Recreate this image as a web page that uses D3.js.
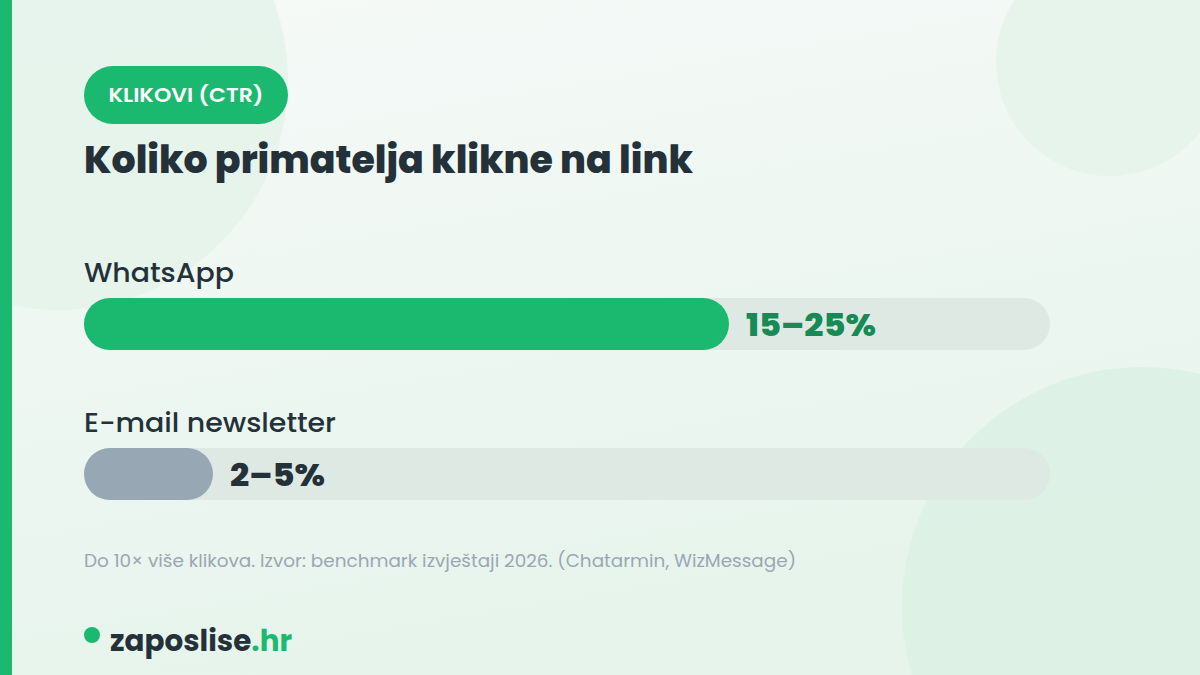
<!DOCTYPE html>
<html><head><meta charset="utf-8">
<script src="https://cdn.jsdelivr.net/npm/d3@7"></script>
<style>html,body{margin:0;padding:0;background:#f3f8f5;}svg{display:block;}</style>
</head><body>
<script>
const categories = ["WhatsApp", "E-mail newsletter"];
const lowValues = [15, 2];
const highValues = [25, 5];
const valueLabels = ["15–25%", "2–5%"];
const scaleMax = 37.5;
const badgeText = "KLIKOVI (CTR)";
const titleText = "Koliko primatelja klikne na link";
const noteText = "Do 10× više klikova. Izvor: benchmark izvještaji 2026. (Chatarmin, WizMessage)";

const W = 1200, H = 675;
const FONT = "Poppins, Inter, 'Noto Sans', sans-serif";
const svg = d3.select("body").append("svg").attr("width", W).attr("height", H);
const defs = svg.append("defs");
const bg = defs.append("linearGradient").attr("id","bg").attr("x1",0).attr("y1",0).attr("x2",0.3).attr("y2",1);
bg.append("stop").attr("offset","0%").attr("stop-color","#f6faf8");
bg.append("stop").attr("offset","100%").attr("stop-color","#e6f4ec");
svg.append("rect").attr("width",W).attr("height",H).attr("fill","url(#bg)");

// decorative circles
svg.append("circle").attr("cx",58).attr("cy",80).attr("r",230).attr("fill","#e4f3ea").attr("opacity",0.8);
svg.append("circle").attr("cx",1110).attr("cy",62).attr("r",114).attr("fill","#e4f3ea").attr("opacity",0.8);
svg.append("circle").attr("cx",1142).attr("cy",607).attr("r",240).attr("fill","#dbf0e4").attr("opacity",0.8);

// left stripe
svg.append("rect").attr("x",0).attr("y",0).attr("width",12).attr("height",H).attr("fill","#1bb96f");

// badge
svg.append("rect").attr("x",84).attr("y",66).attr("width",204).attr("height",58).attr("rx",29).attr("fill","#1bb96f");
svg.append("text").attr("x",186).attr("y",102).attr("text-anchor","middle")
  .attr("font-family",FONT).attr("font-size",20).attr("font-weight",600).attr("fill","#ffffff")
  .attr("textLength",155).attr("lengthAdjust","spacingAndGlyphs").text(badgeText);

// title
svg.append("text").attr("x",84).attr("y",173)
  .attr("font-family",FONT).attr("font-size",38).attr("font-weight",800).attr("fill","#243139")
  .attr("textLength",609).attr("lengthAdjust","spacingAndGlyphs").text(titleText);

// bars
const x = d3.scaleLinear().domain([0, scaleMax]).range([84, 84 + 645 * scaleMax / 25]);
const trackEnd = 1050;
const rowTop = [298, 448];
const barH = 52;
const labelW = [150, 252];
const valW = [130, 95];
const fillCol = ["#1bb96f", "#97a8b4"];
const valCol = ["#178a55", "#243139"];

const rows = svg.selectAll("g.row").data(categories).join("g").attr("class","row");
rows.append("text").attr("x",84).attr("y",(d,i)=>rowTop[i]-16)
  .attr("font-family",FONT).attr("font-size",26).attr("font-weight",500).attr("fill","#243139")
  .attr("textLength",(d,i)=>labelW[i]).attr("lengthAdjust","spacingAndGlyphs").text(d=>d);
rows.append("rect").attr("x",84).attr("y",(d,i)=>rowTop[i]).attr("width",trackEnd-84).attr("height",barH)
  .attr("rx",barH/2).attr("fill","#dfe9e4");
rows.append("rect").attr("x",x(0)).attr("y",(d,i)=>rowTop[i]).attr("width",(d,i)=>x(highValues[i])-x(0)).attr("height",barH)
  .attr("rx",barH/2).attr("fill",(d,i)=>fillCol[i]);
rows.append("text").attr("x",(d,i)=>x(highValues[i])+17).attr("y",(d,i)=>rowTop[i]+barH/2+12)
  .attr("font-family",FONT).attr("font-size",32).attr("font-weight",800).attr("fill",(d,i)=>valCol[i])
  .attr("textLength",(d,i)=>valW[i]).attr("lengthAdjust","spacingAndGlyphs").text((d,i)=>valueLabels[i]);

// note
svg.append("text").attr("x",84).attr("y",567)
  .attr("font-family",FONT).attr("font-size",18).attr("font-weight",400).attr("fill","#9aa7b3")
  .attr("textLength",712).attr("lengthAdjust","spacingAndGlyphs").text(noteText);

// logo
svg.append("circle").attr("cx",92).attr("cy",635).attr("r",8).attr("fill","#1bb96f");
const logo = svg.append("text").attr("x",110).attr("y",651)
  .attr("font-family",FONT).attr("font-size",30).attr("font-weight",700).attr("fill","#243139")
  .attr("textLength",182).attr("lengthAdjust","spacingAndGlyphs");
logo.append("tspan").text("zaposlise");
logo.append("tspan").attr("fill","#1bb96f").text(".hr");
</script>
</body></html>
